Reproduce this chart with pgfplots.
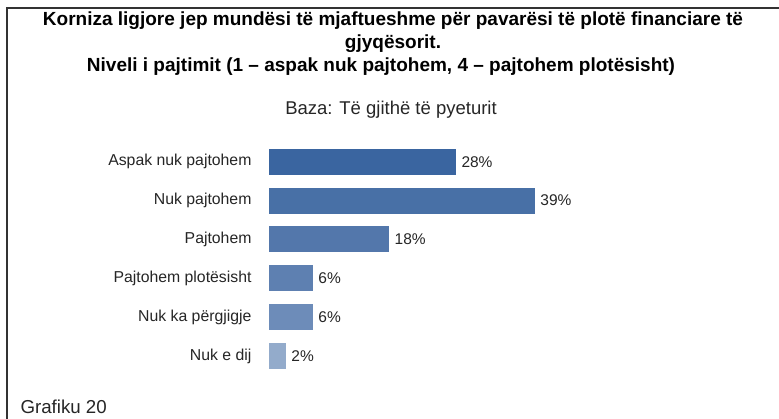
\documentclass[border=0pt]{standalone}
\usepackage{pgfplots}
\pgfplotsset{compat=1.18}
\usepackage{fontspec}
\setmainfont{Liberation Sans}
\definecolor{c1}{HTML}{3A65A0}
\definecolor{c2}{HTML}{4870A6}
\definecolor{c3}{HTML}{5377AB}
\definecolor{c4}{HTML}{5E80B1}
\definecolor{c5}{HTML}{6D8CB9}
\definecolor{c6}{HTML}{93ABCB}
\definecolor{txt}{HTML}{262626}
\begin{document}
\begin{tikzpicture}[x=1pt,y=1pt]
\useasboundingbox (0,0) rectangle (779,419);
\fill[white] (0,0) rectangle (779,419);
\draw[line width=1.6pt, black!80] (7,0) -- (7,411) -- (779,411);
\node[font=\fontsize{19}{22}\selectfont\bfseries, text=black] at (393,398) {Korniza ligjore jep mundësi të mjaftueshme për pavarësi të plotë financiare të};
\node[font=\fontsize{19}{22}\selectfont\bfseries, text=black] at (393,375) {gjyqësorit.};
\node[font=\fontsize{19}{22}\selectfont\bfseries, text=black] at (381,352) {Niveli i pajtimit (1 – aspak nuk pajtohem, 4 – pajtohem plotësisht)};
\node[font=\fontsize{18.5}{22}\selectfont, text=txt] at (391,309) {Baza: Të gjithë të pyeturit};
\node[font=\fontsize{18.7}{22}\selectfont, text=txt, anchor=west] at (17,12) {Grafiku 20};
\begin{axis}[
  at={(269pt,43.6pt)}, anchor=south west,
  scale only axis, width=405pt, height=233pt,
  xmin=0, xmax=60, ymin=-0.5, ymax=5.5, y dir=reverse,
  xbar, bar width=26pt, bar shift=0pt,
  axis line style={draw=none}, major tick length=0pt,
  xtick=\empty,
  ytick={0,1,2,3,4,5},
  yticklabels={Aspak nuk pajtohem, Nuk pajtohem, Pajtohem, Pajtohem plotësisht, Nuk ka përgjigje, Nuk e dij},
  yticklabel style={font=\fontsize{15.8}{18}\selectfont, text=txt, xshift=-14pt},
  clip=false,
  point meta=explicit symbolic,
  nodes near coords={\pgfplotspointmeta\%},
  every node near coord/.append style={font=\fontsize{15.5}{18}\selectfont, text=txt, anchor=west, xshift=2pt, yshift=0pt},
]
\addplot[fill=c1, draw=none] coordinates {(27.7,0) [28]};
\addplot[fill=c2, draw=none] coordinates {(39.4,1) [39]};
\addplot[fill=c3, draw=none] coordinates {(17.8,2) [18]};
\addplot[fill=c4, draw=none] coordinates {(6.5,3) [6]};
\addplot[fill=c5, draw=none] coordinates {(6.5,4) [6]};
\addplot[fill=c6, draw=none] coordinates {(2.5,5) [2]};
\end{axis}
\end{tikzpicture}
\end{document}
